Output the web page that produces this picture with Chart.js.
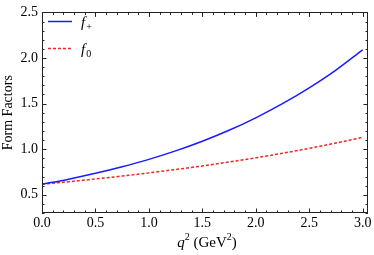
<!DOCTYPE html>
<html>
<head>
<meta charset="utf-8">
<script src="https://cdn.jsdelivr.net/npm/chart.js@4/dist/chart.umd.min.js"></script>
<style>
html,body{margin:0;padding:0;background:#fff;}
#wrap{width:374px;height:255px;position:relative;}
</style>
</head>
<body>
<div id="wrap"><canvas id="c" width="374" height="255"></canvas></div>
<script>
// Data
const q2 = [0, 0.25, 0.5, 0.75, 1.0, 1.25, 1.5, 1.75, 2.0, 2.25, 2.5, 2.75, 3.0];
const fPlus = [0.615, 0.671, 0.735, 0.807, 0.888, 0.981, 1.087, 1.207, 1.344, 1.499, 1.673, 1.868, 2.09];
const fZero = [0.615, 0.643, 0.673, 0.705, 0.740, 0.777, 0.816, 0.859, 0.905, 0.955, 1.009, 1.067, 1.13];
const seriesBase = ['f', 'f'];
const seriesSub = ['+', '0'];
const xTickValues = [0, 0.5, 1.0, 1.5, 2.0, 2.5, 3.0];
const xTickLabels = ['0.0', '0.5', '1.0', '1.5', '2.0', '2.5', '3.0'];
const yTickValues = [0.5, 1.0, 1.5, 2.0, 2.5];
const yTickLabels = ['0.5', '1.0', '1.5', '2.0', '2.5'];
const yTitle = 'Form Factors';

const SERIF = '"Liberation Serif", "Times New Roman", serif';

const framePlugin = {
  id: 'frame',
  afterDatasetsDraw(chart) {
    const ctx = chart.ctx;
    const a = chart.chartArea;
    const xs = chart.scales.x, ys = chart.scales.y;
    ctx.save();
    ctx.strokeStyle = '#222';
    ctx.lineWidth = 1;
    ctx.strokeRect(Math.round(a.left) + 0.5, Math.round(a.top) + 0.5, Math.round(a.right - a.left) - 1, Math.round(a.bottom - a.top) - 1);
    ctx.beginPath();
    // x ticks (major every 0.5, minor every 0.1)
    for (let i = 0; i <= 30; i++) {
      const v = i / 10;
      const px = Math.round(xs.getPixelForValue(v)) + 0.5;
      const len = (i % 5 === 0) ? 4.5 : 2.5;
      ctx.moveTo(px, a.bottom); ctx.lineTo(px, a.bottom - len);
      ctx.moveTo(px, a.top); ctx.lineTo(px, a.top + len);
    }
    for (let i = 3; i <= 25; i++) {
      const v = i / 10;
      const py = Math.round(ys.getPixelForValue(v)) + 0.5;
      const len = (i % 5 === 0) ? 4.5 : 2.5;
      ctx.moveTo(a.left, py); ctx.lineTo(a.left + len, py);
      ctx.moveTo(a.right, py); ctx.lineTo(a.right - len, py);
    }
    ctx.stroke();

    // legend
    const ds = chart.data.datasets;
    const ly = [21, 48];
    ds.forEach((d, i) => {
      ctx.save();
      ctx.strokeStyle = d.borderColor;
      ctx.lineWidth = d.borderWidth;
      ctx.setLineDash(d.borderDash || []);
      ctx.beginPath();
      ctx.moveTo(48, ly[i] + 0.5); ctx.lineTo(72, ly[i] + 0.5);
      ctx.stroke();
      ctx.restore();
      ctx.fillStyle = '#000';
      ctx.textBaseline = 'alphabetic';
      ctx.font = 'italic 15px ' + SERIF;
      ctx.fillText(seriesBase[i], 81, ly[i] + 6);
      const w = ctx.measureText(seriesBase[i]).width;
      ctx.font = '10px ' + SERIF;
      ctx.fillText(seriesSub[i], 81 + w + 1, ly[i] + 9);
    });

    // x axis title: q^2 (GeV^2)
    const parts = [
      {t: 'q', f: 'italic 15px ' + SERIF, dy: 0},
      {t: '2', f: '10px ' + SERIF, dy: -7},
      {t: ' (GeV', f: '15px ' + SERIF, dy: 0},
      {t: '2', f: '10px ' + SERIF, dy: -7},
      {t: ')', f: '15px ' + SERIF, dy: 0}
    ];
    let total = 0;
    parts.forEach(p => { ctx.font = p.f; p.w = ctx.measureText(p.t).width; total += p.w; });
    let x = (a.left + a.right) / 2 + 2 - total / 2;
    const base = 247;
    parts.forEach(p => { ctx.font = p.f; ctx.fillText(p.t, x, base + p.dy); x += p.w; });
    ctx.restore();
  }
};

new Chart(document.getElementById('c'), {
  type: 'line',
  data: {
    datasets: [
      {
        label: 'f+',
        data: q2.map((v, i) => ({x: v, y: fPlus[i]})),
        borderColor: '#1a1aff',
        borderWidth: 1.5,
        pointRadius: 0,
        cubicInterpolationMode: 'monotone',
        fill: false
      },
      {
        label: 'f0',
        data: q2.map((v, i) => ({x: v, y: fZero[i]})),
        borderColor: '#ff2020',
        borderWidth: 1.5,
        borderDash: [3, 2],
        pointRadius: 0,
        cubicInterpolationMode: 'monotone',
        fill: false
      }
    ]
  },
  options: {
    responsive: false,
    animation: false,
    devicePixelRatio: 1,
    layout: {padding: {top: 8, right: 6, left: 0, bottom: 0}},
    plugins: {legend: {display: false}, tooltip: {enabled: false}},
    scales: {
      x: {
        type: 'linear',
        min: 0, max: 3.05,
        grid: {display: false, drawTicks: false},
        border: {display: false},
        afterBuildTicks: s => { s.ticks = xTickValues.map(v => ({value: v})); },
        afterFit: s => { s.height = 42; },
        ticks: {
          padding: 2,
          color: '#000',
          font: {family: SERIF, size: 14},
          maxRotation: 0,
          autoSkip: false,
          callback: (v) => xTickLabels[xTickValues.indexOf(v)]
        }
      },
      y: {
        type: 'linear',
        min: 0.3, max: 2.5,
        grid: {display: false, drawTicks: false},
        border: {display: false},
        afterBuildTicks: s => { s.ticks = yTickValues.map(v => ({value: v})); },
        afterFit: s => { s.width = 42; },
        title: {
          display: true,
          text: yTitle,
          color: '#000',
          font: {family: SERIF, size: 14},
          padding: {top: 0, bottom: 0}
        },
        ticks: {
          padding: 4,
          color: '#000',
          font: {family: SERIF, size: 14},
          autoSkip: false,
          callback: (v) => yTickLabels[yTickValues.indexOf(v)]
        }
      }
    }
  },
  plugins: [framePlugin]
});
</script>
</body>
</html>
